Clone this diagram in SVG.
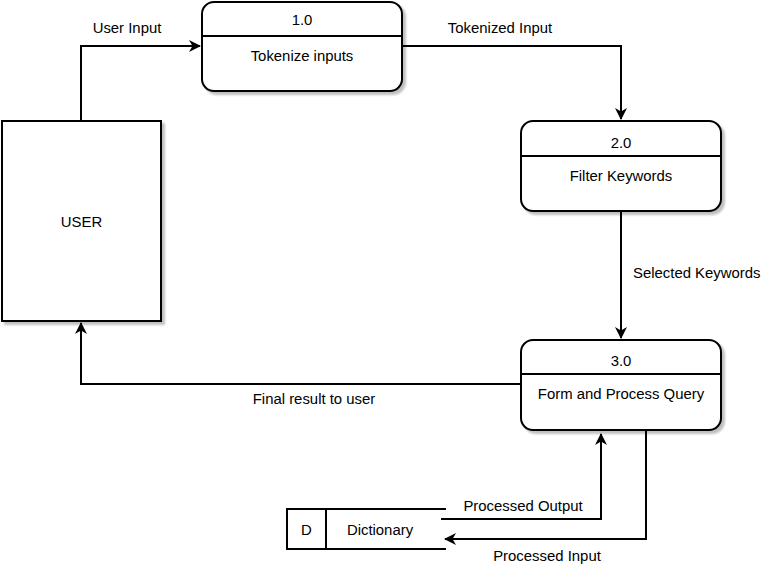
<svg xmlns="http://www.w3.org/2000/svg" width="772" height="565" viewBox="0 0 772 565">
<defs>
<filter id="sh" x="-10%" y="-10%" width="130%" height="130%">
<feOffset in="SourceAlpha" dx="3" dy="3" result="o"/>
<feGaussianBlur in="o" stdDeviation="1" result="b"/>
<feComponentTransfer in="b" result="c"><feFuncA type="linear" slope="0.25"/></feComponentTransfer>
<feMerge><feMergeNode in="c"/><feMergeNode in="SourceGraphic"/></feMerge>
</filter>
<marker id="arr" viewBox="0 0 12 12" refX="11" refY="6" markerWidth="12" markerHeight="12" markerUnits="userSpaceOnUse" orient="auto">
<path d="M0,0 L12,6 L0,12 L3.5,6 Z" fill="#000"/>
</marker>
</defs>
<style>
text{font-family:"Liberation Sans",Arial,sans-serif;font-size:14.9px;fill:#000}
.box{fill:#fff;stroke:#000;stroke-width:2}
.ln{fill:none;stroke:#000;stroke-width:2}
.c{text-anchor:middle}
</style>
<rect width="772" height="565" fill="#fff"/>
<g id="user">
<rect class="box" x="2" y="121" width="159" height="200" filter="url(#sh)"/>
<text class="c" x="81.5" y="227">USER</text>
</g>
<g id="p1">
<rect class="box" x="202" y="2" width="200" height="89" rx="12" filter="url(#sh)"/>
<line class="ln" x1="202" y1="36" x2="402" y2="36"/>
<text class="c" x="302" y="25">1.0</text>
<text class="c" x="302" y="61">Tokenize inputs</text>
</g>
<g id="p2">
<rect class="box" x="521" y="121" width="200" height="90" rx="12" filter="url(#sh)"/>
<line class="ln" x1="521" y1="156" x2="721" y2="156"/>
<text class="c" x="621" y="148">2.0</text>
<text class="c" x="621" y="181">Filter Keywords</text>
</g>
<g id="p3">
<rect class="box" x="521" y="340" width="200" height="90" rx="12" filter="url(#sh)"/>
<line class="ln" x1="521" y1="374" x2="721" y2="374"/>
<text class="c" x="621" y="366">3.0</text>
<text class="c" x="621" y="399">Form and Process Query</text>
</g>
<g id="dict">
<path class="ln" d="M446,509 H287 V549 H446 M326,509 V549" fill="#fff"/>
<text class="c" x="306.5" y="535">D</text>
<text class="c" x="380" y="535">Dictionary</text>
</g>
<g id="connectors">
<path class="ln" d="M81,121 V46 H200" marker-end="url(#arr)"/>
<path class="ln" d="M402,46 H621 V119" marker-end="url(#arr)"/>
<path class="ln" d="M621,211 V338" marker-end="url(#arr)"/>
<path class="ln" d="M521,384 H81 V323" marker-end="url(#arr)"/>
<path class="ln" d="M441,519 H601 V434" marker-end="url(#arr)"/>
<path class="ln" d="M646,430 V539 H445" marker-end="url(#arr)"/>
<text class="c" x="127" y="33">User Input</text>
<text class="c" x="500" y="33">Tokenized Input</text>
<text x="633" y="278">Selected Keywords</text>
<text class="c" x="314" y="404">Final result to user</text>
<text class="c" x="523" y="511">Processed Output</text>
<text class="c" x="547" y="561">Processed Input</text>
</g>
</svg>
